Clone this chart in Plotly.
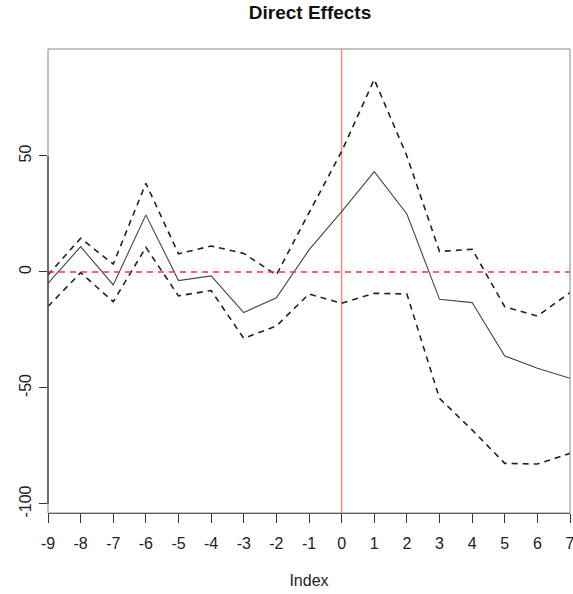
import plotly.graph_objects as go

index = [-9, -8, -7, -6, -5, -4, -3, -2, -1, 0, 1, 2, 3, 4, 5, 6, 7]
effect = [-4.9, 10.9, -5.6, 24.6, -3.7, -1.7, -17.5, -11.1, 9.5, 26.0, 43.2, 25.0, -11.8, -13.2, -36.2, -41.5, -45.8]
upper = [-1.3, 14.5, 3.4, 38.2, 7.8, 11.2, 8.0, -1.3, 25.5, 51.9, 83.0, 50.0, 8.8, 9.8, -15.0, -19.0, -8.9]
lower = [-14.9, -0.3, -12.8, 10.6, -10.3, -8.0, -28.6, -23.3, -9.5, -13.5, -9.2, -9.5, -54.5, -68.1, -82.5, -82.8, -78.2]

y_ticks = [-100, -50, 0, 50]
x_range = [-9, 7]
y_range = [-103.9, 96.1]

font = "Liberation Sans, Arial, Helvetica, sans-serif"

fig = go.Figure()
fig.add_trace(go.Scatter(x=index, y=upper, mode="lines",
                         line=dict(color="#222222", width=1.6, dash="6px,5px"), showlegend=False))
fig.add_trace(go.Scatter(x=index, y=lower, mode="lines",
                         line=dict(color="#222222", width=1.6, dash="6px,5px"), showlegend=False))
fig.add_trace(go.Scatter(x=index, y=effect, mode="lines",
                         line=dict(color="#444444", width=1.1), showlegend=False))

# reference lines
fig.add_shape(type="line", xref="x", yref="paper", x0=0, x1=0, y0=0, y1=1,
              line=dict(color="rgba(255,40,40,0.55)", width=1.5), layer="below")
fig.add_shape(type="line", xref="paper", yref="y", x0=0, x1=1, y0=0, y1=0,
              line=dict(color="#ff3030", width=1.6, dash="6px,5px"))
# box
fig.add_shape(type="rect", xref="paper", yref="paper", x0=0, x1=1, y0=0, y1=1,
              line=dict(color="#888888", width=1))
# y axis line spanning tick range
fig.add_shape(type="line", xref="paper", yref="y", x0=0, x1=0, y0=-100, y1=50,
              line=dict(color="#333333", width=1.2))

fig.update_layout(
    width=573, height=594,
    margin=dict(l=48, r=3, t=49, b=81, autoexpand=False),
    paper_bgcolor="white", plot_bgcolor="white",
    font=dict(family=font, size=16, color="#222222"),
    title=dict(text="<b>Direct Effects</b>", x=310 / 573, xanchor="center",
               y=1 - 12 / 594, yanchor="middle", font=dict(size=19, color="#111111")),
    xaxis=dict(range=x_range, tickmode="array", tickvals=index, ticktext=[str(v) for v in index],
               showgrid=False, zeroline=False, showline=True, linecolor="#333333", linewidth=1.2,
               ticks="outside", ticklen=9, tickcolor="#333333", tickwidth=1,
               tickfont=dict(size=16), fixedrange=True, ticklabeloverflow="allow",
               ticklabelstandoff=7, automargin=False,
               title=dict(text="Index", font=dict(size=16), standoff=23)),
    yaxis=dict(range=y_range, tickmode="array", tickvals=y_ticks, ticktext=[str(v) for v in y_ticks],
               showgrid=False, zeroline=False, showline=False, automargin=False,
               ticks="outside", ticklen=8, tickcolor="#333333", tickwidth=1,
               tickangle=-90, tickfont=dict(size=16), fixedrange=True, ticklabelstandoff=2),
)

fig.write_html("out.html")
